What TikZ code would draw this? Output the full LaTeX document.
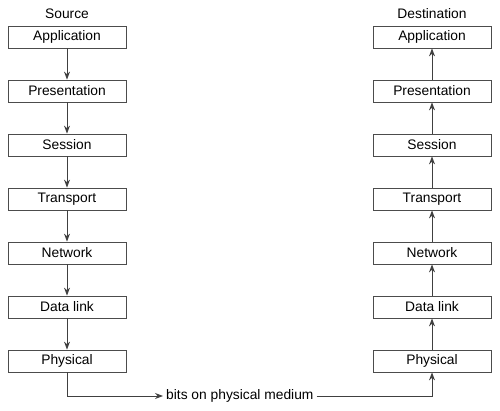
\documentclass[tikz,border=0pt]{standalone}
\usepackage{fontspec}
\setmainfont{Liberation Sans}
\usetikzlibrary{arrows.meta}
\begin{document}
\begin{tikzpicture}[x=1pt,y=-1pt,
  layer/.style={draw=black!70,line width=0.8pt,minimum width=118pt,minimum height=22pt,inner sep=0pt,font=\fontsize{13.8}{15}\selectfont},
  lbl/.style={font=\fontsize{13.8}{15}\selectfont,inner sep=3pt},
  conn/.style={draw=black!75,line width=1pt,-{Stealth[length=8pt,width=6pt]}}]
\useasboundingbox (0,0) rectangle (500,411);
\node[lbl] (src) at (67,14) {Source};
\node[lbl] (dst) at (432,14) {Destination};
\foreach \n/\t [count=\i from 0] in {app/Application,pre/Presentation,ses/Session,tra/Transport,net/Network,dl/Data link,phy/Physical}{
  \node[layer] (L\n) at (67,37+54*\i) {\t};
  \node[layer] (R\n) at (432,37+54*\i) {\t};
}
\foreach \a/\b in {app/pre,pre/ses,ses/tra,tra/net,net/dl,dl/phy}{
  \draw[conn] (L\a) -- (L\b);
  \draw[conn] (R\b) -- (R\a);
}
\node[lbl,anchor=west] (bits) at (163,396) {bits on physical medium};
\draw[conn] (Lphy.south) |- (bits.west);
\draw[conn] (bits.east) -| (Rphy.south);
\end{tikzpicture}
\end{document}
